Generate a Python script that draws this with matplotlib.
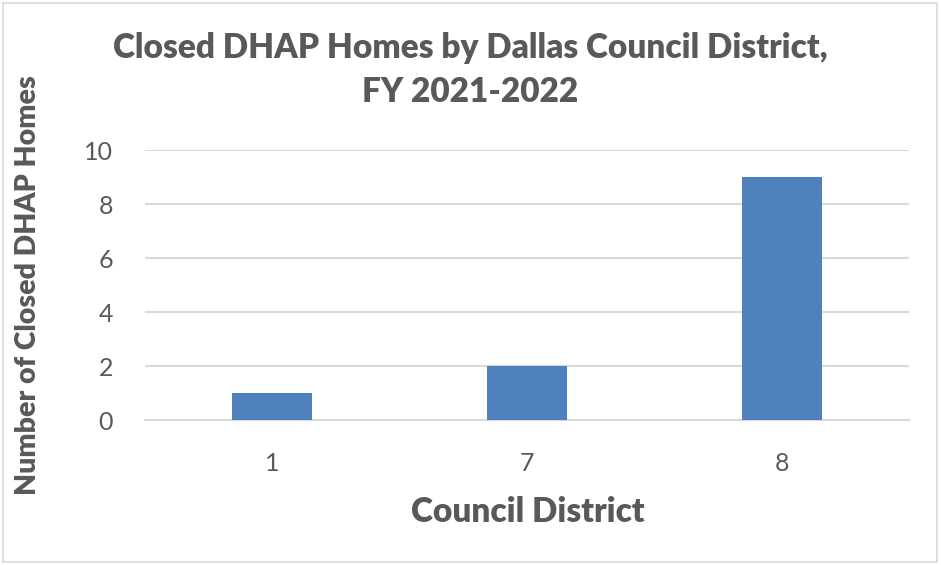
import matplotlib.pyplot as plt
from matplotlib.patches import Rectangle

# Data
districts = ['1', '7', '8']
closed_homes = [1, 2, 9]

text_color = '#595959'
bar_color = '#4F81BD'
grid_color = '#D9D9D9'

plt.rcParams['font.family'] = ['Lato', 'DejaVu Sans']

fig = plt.figure(figsize=(9.41, 5.65), dpi=100)
ax = fig.add_axes([145 / 941, 1 - 420 / 565, 764 / 941, 270 / 565])

ax.bar(range(len(districts)), closed_homes, width=0.315, color=bar_color, zorder=3)
ax.set_xlim(-0.5, len(districts) - 0.5)
ax.set_ylim(0, 10)
ax.set_yticks(range(0, 11, 2))
ax.set_xticks(range(len(districts)))
ax.set_xticklabels(districts)

ax.yaxis.grid(True, color=grid_color, linewidth=1.5, zorder=0)
for side in ['top', 'right', 'left']:
    ax.spines[side].set_visible(False)
ax.spines['bottom'].set_color(grid_color)
ax.spines['bottom'].set_linewidth(1.5)
ax.tick_params(axis='both', length=0, labelsize=18, colors=text_color)
ax.tick_params(axis='x', pad=23)
ax.tick_params(axis='y', pad=23)

fig.text(0.5, 1 - 70 / 565, 'Closed DHAP Homes by Dallas Council District,\nFY 2021-2022',
         ha='center', va='center', fontsize=24, fontweight='heavy', color=text_color,
         linespacing=1.45)
fig.text(28 / 941, 1 - 285 / 565, 'Number of Closed DHAP Homes', rotation=90,
         ha='center', va='center', fontsize=20.5, fontweight='heavy', color=text_color)
fig.text(528 / 941, 1 - 512 / 565, 'Council District', ha='center', va='center',
         fontsize=24, fontweight='heavy', color=text_color)

# light frame around the chart area
fig.patches.append(Rectangle((3 / 941, 3 / 565), 934 / 941, 559 / 565, transform=fig.transFigure,
                             fill=False, edgecolor=grid_color, linewidth=1.2))

plt.savefig('out.png', dpi=100)
